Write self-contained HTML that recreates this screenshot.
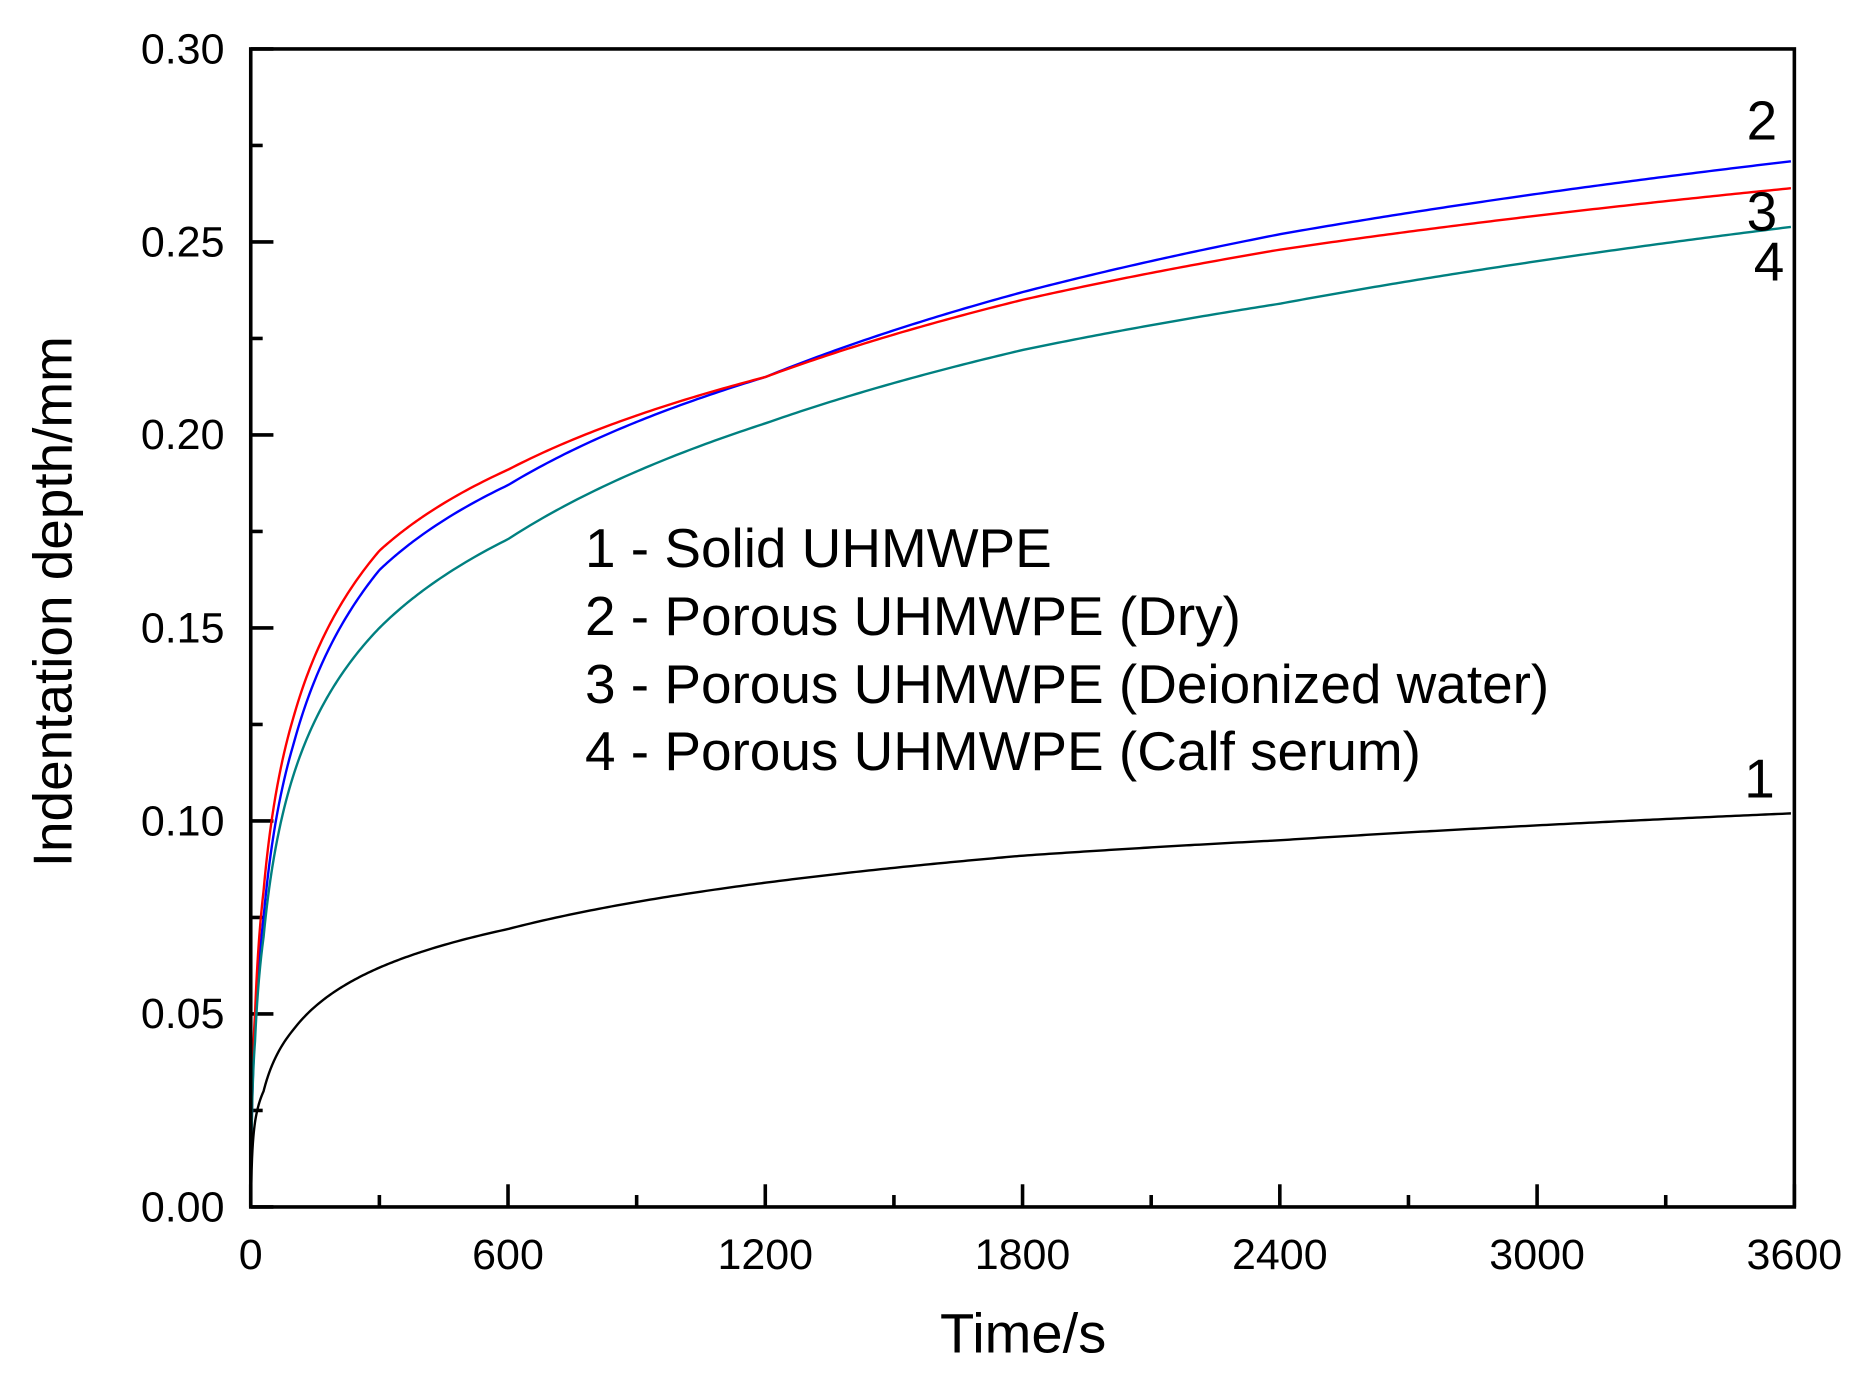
<!DOCTYPE html>
<html><head><meta charset="utf-8"><style>
html,body{margin:0;padding:0;background:#fff;}
svg{display:block;}
text{font-family:"Liberation Sans",sans-serif;fill:#000;}
</style></head><body>
<svg id="s" width="1872" height="1392" viewBox="0 -1 1568 1166" xmlns="http://www.w3.org/2000/svg">
<g id="ticks" stroke="#000" stroke-width="3"></g>
<g id="curves" fill="none" stroke-width="2"></g>
<rect x="210" y="40" width="1293" height="970" fill="none" stroke="#000" stroke-width="3"/>
<g font-size="36" text-anchor="end">
<text x="188" y="52">0.30</text><text x="188" y="214">0.25</text><text x="188" y="375">0.20</text>
<text x="188" y="537">0.15</text><text x="188" y="699">0.10</text><text x="188" y="860">0.05</text><text x="188" y="1022">0.00</text>
</g>
<g font-size="36" text-anchor="middle">
<text x="210" y="1062">0</text><text x="425.5" y="1062">600</text><text x="641" y="1062">1200</text>
<text x="856.5" y="1062">1800</text><text x="1072" y="1062">2400</text><text x="1287.5" y="1062">3000</text><text x="1503" y="1062">3600</text>
</g>
<text x="857" y="1132" font-size="47" text-anchor="middle">Time/s</text>
<text transform="translate(60,503) rotate(-90)" font-size="46" text-anchor="middle">Indentation depth/mm</text>
<g font-size="46">
<text x="490" y="474">1 - Solid UHMWPE</text>
<text x="490" y="531">2 - Porous UHMWPE (Dry)</text>
<text x="490" y="588">3 - Porous UHMWPE (Deionized water)</text>
<text x="490" y="644">4 - Porous UHMWPE (Calf serum)</text>
<text x="1463" y="116">2</text><text x="1463" y="192">3</text><text x="1469" y="234">4</text><text x="1461" y="667">1</text>
</g>
</svg>
<script>
var X=t=>210+t/3600*1293, Y=v=>1010-v/0.3*970;
var tk=document.getElementById('ticks'),h='';
for(var t=0;t<=3600;t+=300){var L=(t%600==0)?19:10;h+='<line x1="'+X(t)+'" y1="1010" x2="'+X(t)+'" y2="'+(1010-L)+'"/>';}
for(var i=0;i<=12;i++){var v=i*0.025,L=(i%2==0)?19:10;h+='<line x1="210" y1="'+Y(v)+'" x2="'+(210+L)+'" y2="'+Y(v)+'"/>';}
tk.innerHTML=h;
var ts=[1,10,30,100,300,600,1200,1800,2400,3600];
var D={
'#0000ff':[0.008,0.045,0.075,0.120,0.165,0.187,0.215,0.237,0.252,0.271],
'#ff0000':[0.009,0.050,0.082,0.127,0.170,0.191,0.215,0.235,0.248,0.264],
'#008080':[0.008,0.043,0.070,0.112,0.150,0.173,0.203,0.222,0.234,0.254],
'#000000':[0.004,0.022,0.030,0.046,0.062,0.072,0.084,0.091,0.095,0.102]};
var g='';
for(var c in D){var a=D[c],p='M'+X(0)+','+Y(0);
for(var t=1;t<=3600;t+=(t<50?1:(t<400?4:10))){var lt=Math.log(t),k=0;while(k<ts.length-2&&t>ts[k+1])k++;
var f=(lt-Math.log(ts[k]))/(Math.log(ts[k+1])-Math.log(ts[k]));var v=a[k]+(a[k+1]-a[k])*f;p+=' L'+X(t).toFixed(2)+','+Y(v).toFixed(2);}
g+='<path d="'+p+'" stroke="'+c+'"/>';}
document.getElementById('curves').innerHTML=g;
</script>
</body></html>
